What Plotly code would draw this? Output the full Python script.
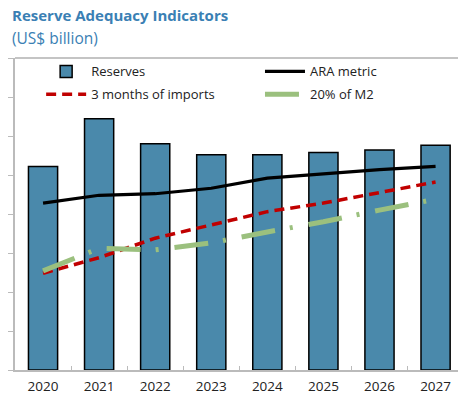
import plotly.graph_objects as go

years = ["2020", "2021", "2022", "2023", "2024", "2025", "2026", "2027"]
reserves = [26.1, 32.2, 29.0, 27.6, 27.6, 27.9, 28.2, 28.8]
ara_metric = [21.4, 22.4, 22.6, 23.3, 24.6, 25.2, 25.7, 26.1]
imports_3m = [12.4, 14.4, 16.9, 18.6, 20.3, 21.4, 22.7, 24.1]
m2_20pct = [12.7, 15.6, 15.4, 16.3, 17.7, 19.0, 20.5, 21.9]

FONT = "Open Sans"
TITLE_COLOR = "#3a80b4"

fig = go.Figure()
fig.add_trace(go.Bar(
    x=years, y=reserves, name="Reserves", width=0.52,
    marker=dict(color="#4a89ab", line=dict(color="black", width=1.5)),
    legend="legend", legendgroup="a",
))
fig.add_trace(go.Scatter(
    x=years, y=imports_3m, name="3 months of imports", mode="lines",
    line=dict(color="#c00000", width=3.5, dash="10px,6px"),
    legend="legend", legendgroup="b",
))
fig.add_trace(go.Scatter(
    x=years, y=ara_metric, name="ARA metric", mode="lines",
    line=dict(color="black", width=3.2),
    legend="legend2", legendgroup="c",
))
fig.add_trace(go.Scatter(
    x=years, y=m2_20pct, name="20% of M2", mode="lines",
    line=dict(color="#9bc07e", width=5, dash="34px,15px,3px,16px"),
    legend="legend2", legendgroup="d",
))

fig.update_layout(
    width=458, height=404,
    margin=dict(l=15, r=0, t=58, b=34),
    paper_bgcolor="white", plot_bgcolor="white",
    font=dict(family=FONT, size=13, color="#222"),
    showlegend=True,
    legend=dict(x=0.059, y=1.005, xanchor="left", yanchor="top",
                bgcolor="rgba(0,0,0,0)", font=dict(size=13, family=FONT),
                tracegroupgap=3, itemwidth=40),
    legend2=dict(x=0.553, y=1.005, xanchor="left", yanchor="top",
                 bgcolor="rgba(0,0,0,0)", font=dict(size=13, family=FONT),
                 tracegroupgap=3, itemwidth=40),
    xaxis=dict(type="category", range=[-0.5, 7.4], showline=True,
               linecolor="#bbbbbb", linewidth=1.5, ticks="inside",
               tickson="boundaries", ticklen=4, tickcolor="#bbbbbb",
               tickfont=dict(size=13.5, color="#222", family=FONT),
               ticklabelstandoff=3, ticklabeloverflow="allow",
               showgrid=False, zeroline=False),
    yaxis=dict(range=[0, 40], dtick=5, showline=True, linecolor="#bbbbbb",
               linewidth=1.5, ticks="outside", ticklen=5, tickcolor="#bbbbbb",
               showticklabels=False, showgrid=False, zeroline=False),
    shapes=[dict(type="line", xref="paper", yref="paper", x0=0, x1=1,
                 y0=1, y1=1, line=dict(color="#b0b0b0", width=1.5))],
    annotations=[
        dict(text="<b>Reserve Adequacy Indicators</b>", xref="paper", yref="paper",
             x=-0.011, y=1.0, yshift=55, xanchor="left", yanchor="top",
             showarrow=False, font=dict(size=15, color=TITLE_COLOR, family=FONT)),
        dict(text="(US$ billion)", xref="paper", yref="paper",
             x=-0.011, y=1.0, yshift=33, xanchor="left", yanchor="top",
             showarrow=False, font=dict(size=15.5, color=TITLE_COLOR, family=FONT)),
    ],
    bargap=0.48,
)

fig.write_html(
    "out.html",
    config={"displayModeBar": False},
    post_script="document.body.style.margin='0';document.body.style.overflow='hidden';",
)
